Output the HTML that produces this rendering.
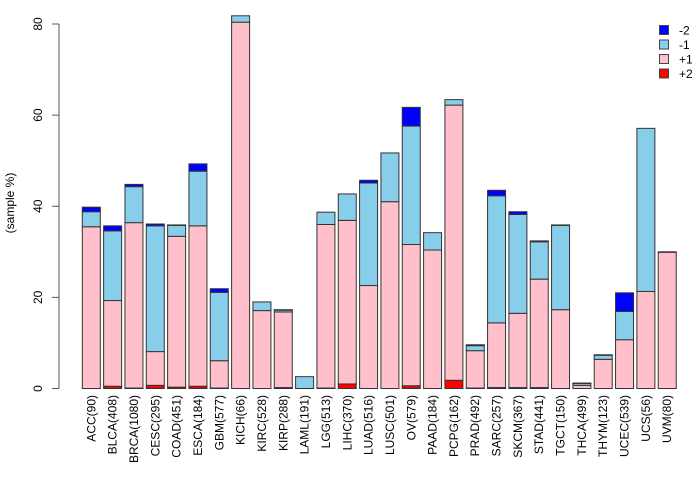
<!DOCTYPE html>
<html><head><meta charset="utf-8"><style>
html,body{margin:0;padding:0;background:#fff;width:700px;height:480px;overflow:hidden}
svg{display:block;font-family:"Liberation Sans",Arial,sans-serif}
</style></head><body>
<svg id="chart" width="700" height="480"></svg>
<script>
const categories=["ACC(90)","BLCA(408)","BRCA(1080)","CESC(295)","COAD(451)","ESCA(184)","GBM(577)","KICH(66)","KIRC(528)","KIRP(288)","LAML(191)","LGG(513)","LIHC(370)","LUAD(516)","LUSC(501)","OV(579)","PAAD(184)","PCPG(162)","PRAD(492)","SARC(257)","SKCM(367)","STAD(441)","TGCT(150)","THCA(499)","THYM(123)","UCEC(539)","UCS(56)","UVM(80)"];
const plus2=[0,0.5,0.1,0.7,0.3,0.5,0.1,0,0,0.2,0,0.1,1.0,0,0,0.6,0,1.8,0.1,0.2,0.2,0.2,0,0,0,0,0,0];
const plus1=[35.5,18.8,36.3,7.4,33.1,35.2,6.0,80.4,17.1,16.6,0,35.9,35.9,22.6,41.0,31.0,30.4,60.4,8.2,14.2,16.3,23.8,17.3,0.7,6.4,10.7,21.3,29.9];
const minus1=[3.3,15.3,7.9,27.6,2.4,12.0,15.0,1.4,1.9,0.4,2.6,2.7,5.8,22.5,10.7,26.0,3.8,1.2,1.1,27.9,21.7,8.2,18.5,0.4,0.9,6.2,35.8,0.1];
const minus2=[1.0,1.1,0.5,0.4,0.1,1.6,0.8,0,0,0.1,0,0,0,0.6,0,4.1,0,0,0.2,1.2,0.6,0.2,0.1,0.1,0.1,4.1,0,0];
const yTicks=[0,20,40,60,80];
const legendLabels=["-2","-1","+1","+2"];
const NS="http://www.w3.org/2000/svg";
const svg=document.getElementById("chart");
function y(v){return 388.5-v*(364.5/80);}
function x(i){return 82.3+i*21.33;}
const bw=18;
function mk(t,a,p){const e=document.createElementNS(NS,t);for(const k in a)e.setAttribute(k,a[k]);(p||svg).appendChild(e);return e;}
const ax=mk("g",{});


mk("line",{x1:59,x2:59,y1:y(0),y2:y(80),stroke:"#555","stroke-width":1},ax);
yTicks.forEach(t=>{
  mk("line",{x1:52,x2:59,y1:y(t),y2:y(t),stroke:"#555"},ax);
  const tx=mk("text",{x:0,y:0,transform:`translate(42,${y(t)}) rotate(-90)`,"text-anchor":"middle","font-size":"12",fill:"#000"},ax);
  tx.textContent=t;
  
  
});
const yt=mk("text",{transform:"translate(14,203) rotate(-90)","text-anchor":"middle","font-size":"12"});
yt.textContent="(sample %)";


const series=[[plus2,"#ff0000"],[plus1,"#ffc0cb"],[minus1,"#87ceeb"],[minus2,"#0000ff"]];
categories.forEach((c,i)=>{
  const g=mk("g",{});
  
  
  let acc=0;
  series.forEach(([arr,col])=>{
    const v=arr[i];
    if(v<=0)return;
    const r=mk("rect",{x:x(i),y:y(acc+v),width:bw,height:y(acc)-y(acc+v),fill:col,stroke:"#333","stroke-width":1},g);
    
    
    acc+=v;
  });
  const lb=mk("text",{transform:`translate(${x(i)+bw/2+4},395) rotate(-90)`,"text-anchor":"end","font-size":"12"});
  lb.textContent=c;
  
  
});
const lg=mk("g",{});


const lcols=["#0000ff","#87ceeb","#ffc0cb","#ff0000"];
legendLabels.forEach((l,k)=>{
  const cy=30+k*14.5;
  const e=mk("g",{},lg);
  
  
  mk("rect",{x:659.5,y:cy-4.5,width:9,height:9,fill:lcols[k],stroke:"#444"},e);
  const t=mk("text",{x:679,y:cy+4.5,"font-size":"12"},e);
  t.textContent=l;
});
</script>
</body></html>
